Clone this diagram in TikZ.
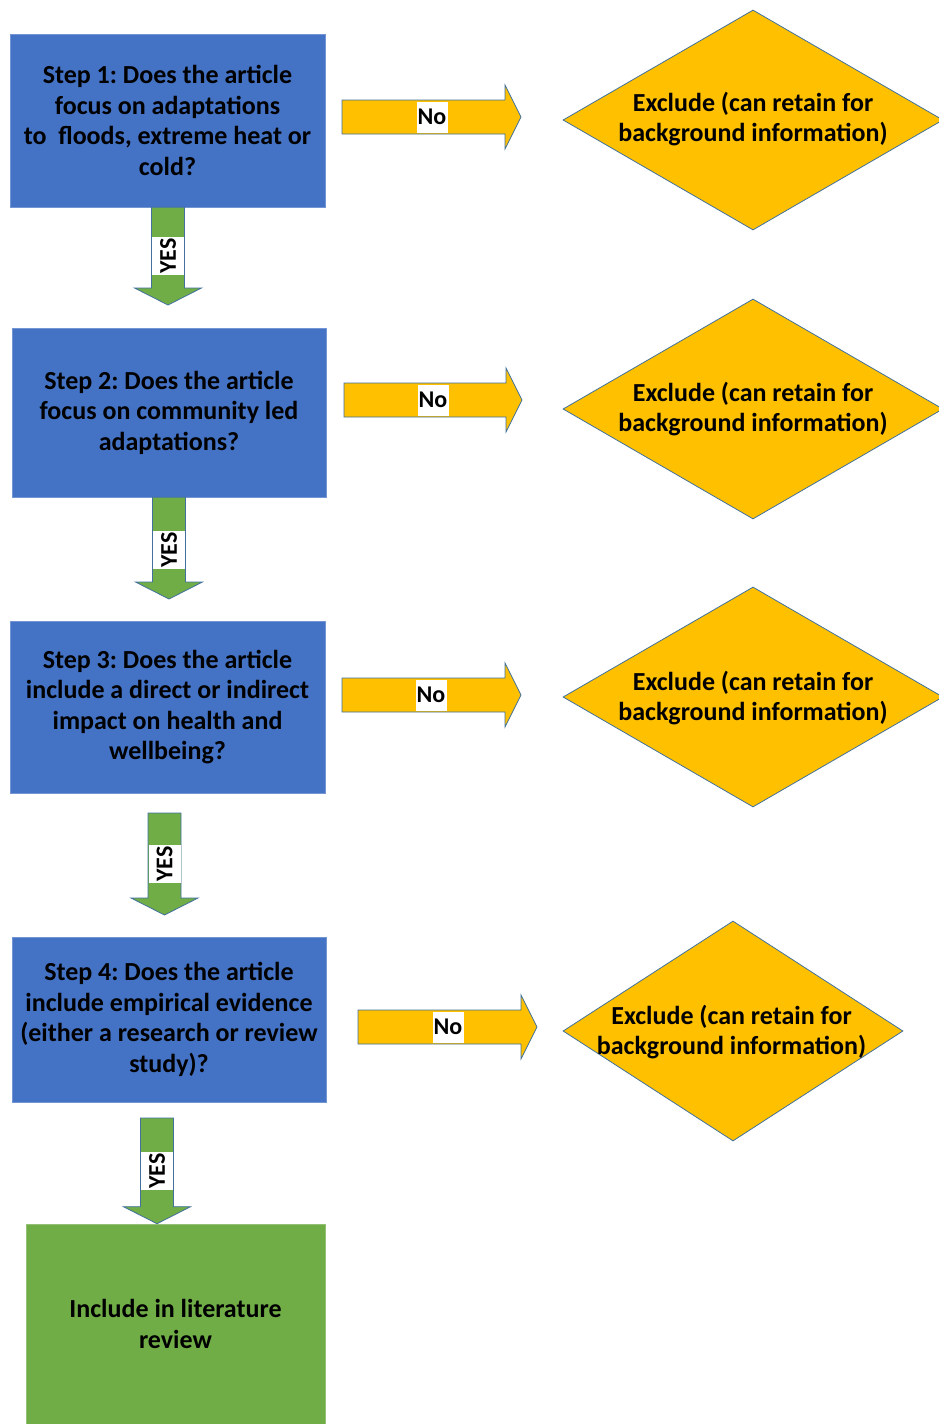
\documentclass[tikz,border=0pt]{standalone}
\usepackage{fontspec}
\setmainfont{Carlito}
\usetikzlibrary{shapes.geometric, calc}
\frenchspacing

\definecolor{stepblue}{HTML}{4472C4}
\definecolor{yesgreen}{HTML}{70AD47}
\definecolor{nogold}{HTML}{FFC000}
\definecolor{rimblue}{HTML}{41719C}

\newcommand{\boxfont}{\fontsize{26}{30.5}\selectfont\bfseries}
\newcommand{\tagfont}{\fontsize{24}{24}\selectfont\bfseries}

\tikzset{
  stepbox/.style={rectangle, fill=stepblue, draw=stepblue!75!white, line width=0.6pt,
    align=center, inner sep=0pt, font=\boxfont},
  incbox/.style={stepbox, fill=yesgreen, draw=yesgreen!75!white},
  exclbox/.style={diamond, fill=nogold, draw=rimblue, line width=0.8pt, inner sep=0pt},
  excltext/.style={align=center, inner sep=0pt, font=\boxfont},
  yesarrow/.style={fill=yesgreen, draw=rimblue, line width=0.8pt},
  noarrow/.style={fill=nogold, draw=rimblue, line width=0.8pt},
  taglabel/.style={fill=white, inner sep=0pt, font=\tagfont}
}

% block arrow pointing down: #1 top middle, #2 tip
\newcommand{\downblock}[2]{%
  \draw[yesarrow] ($(#1)+(-16.5,0)$) -- ($(#2)+(-16.5,17)$) -- ($(#2)+(-33.5,17)$)
    -- (#2) -- ($(#2)+(33.5,17)$) -- ($(#2)+(16.5,17)$) -- ($(#1)+(16.5,0)$) -- cycle;}
% block arrow pointing right: #1 tail middle, #2 tip
\newcommand{\rightblock}[2]{%
  \draw[noarrow] ($(#1)+(0,17)$) -- ($(#2)+(-16,17)$) -- ($(#2)+(-16,32)$)
    -- (#2) -- ($(#2)+(-16,-32)$) -- ($(#2)+(-16,-17)$) -- ($(#1)+(0,-17)$) -- cycle;}

\begin{document}
\begin{tikzpicture}[x=1pt, y=1pt]
    \useasboundingbox (0,0) rectangle (938,-1424);
    \fill[white] (0,0) rectangle (938,-1424);

    % screening steps
    \node[stepbox, minimum width=315pt, minimum height=173pt] (s1) at (167.5,-120.5)
        {Step 1: Does the article\\focus on adaptations\\to~ floods, extreme heat or\\cold?};
    \node[stepbox, minimum width=314pt, minimum height=169pt] (s2) at (169,-412.5)
        {Step 2: Does the article\\focus on community led\\adaptations?};
    \node[stepbox, minimum width=315pt, minimum height=172pt] (s3) at (167.5,-707)
        {Step 3: Does the article\\include a direct or indirect\\impact on health and\\wellbeing?};
    \node[stepbox, minimum width=314pt, minimum height=165pt] (s4) at (169,-1019.5)
        {Step 4: Does the article\\include empirical evidence\\(either a research or review\\study)?};
    \node[incbox, minimum width=299pt, minimum height=200pt] (inc) at (175.5,-1324)
        {Include in literature\\review};

    % exclusion diamonds
    \node[exclbox, minimum width=380pt, minimum height=220pt] (d1) at (753,-120) {};
    \node[exclbox, minimum width=380pt, minimum height=220pt] (d2) at (753,-409) {};
    \node[exclbox, minimum width=380pt, minimum height=220pt] (d3) at (753,-697) {};
    \node[exclbox, minimum width=340pt, minimum height=220pt] (d4) at (733,-1031) {};
    \node[excltext] (t1) at (753,-119) {Exclude (can retain for\\background information)};
    \node[excltext] (t2) at (753,-409) {Exclude (can retain for\\background information)};
    \node[excltext] (t3) at (753,-698) {Exclude (can retain for\\background information)};
    \node[excltext] (t4) at (731.5,-1032) {Exclude (can retain for\\background information)};

    % YES arrows
    \coordinate (y1a) at ($(s1.south)+(0.5,0)$);
    \coordinate (y1b) at (168,-305);
    \downblock{y1a}{y1b}
    \node[taglabel, rotate=90, minimum width=38pt, minimum height=32pt] (yes1) at (168,-256) {YES};
    \coordinate (y2a) at (s2.south);
    \coordinate (y2b) at (169,-599);
    \downblock{y2a}{y2b}
    \node[taglabel, rotate=90, minimum width=38pt, minimum height=32pt] (yes2) at (169,-550) {YES};
    \coordinate (y3a) at (164.5,-813);
    \coordinate (y3b) at (164.5,-915);
    \downblock{y3a}{y3b}
    \node[taglabel, rotate=90, minimum width=38pt, minimum height=32pt] (yes3) at (164.5,-864) {YES};
    \coordinate (y4a) at (157,-1118);
    \coordinate (y4b) at (inc.north -| y4a);
    \downblock{y4a}{y4b}
    \node[taglabel, rotate=90, minimum width=38pt, minimum height=32pt] (yes4) at (157,-1171) {YES};

    % No arrows
    \coordinate (n1a) at (342,-117);
    \coordinate (n1b) at (521,-117);
    \rightblock{n1a}{n1b}
    \node[taglabel, minimum width=31pt, minimum height=31pt] (no1) at (432,-117) {No};
    \coordinate (n2a) at (344,-400);
    \coordinate (n2b) at (522,-400);
    \rightblock{n2a}{n2b}
    \node[taglabel, minimum width=31pt, minimum height=31pt] (no2) at (433,-400) {No};
    \coordinate (n3a) at (342,-695);
    \coordinate (n3b) at (521,-695);
    \rightblock{n3a}{n3b}
    \node[taglabel, minimum width=31pt, minimum height=31pt] (no3) at (431,-695) {No};
    \coordinate (n4a) at (358,-1027);
    \coordinate (n4b) at (537,-1027);
    \rightblock{n4a}{n4b}
    \node[taglabel, minimum width=31pt, minimum height=31pt] (no4) at (448,-1027) {No};
\end{tikzpicture}
\end{document}
